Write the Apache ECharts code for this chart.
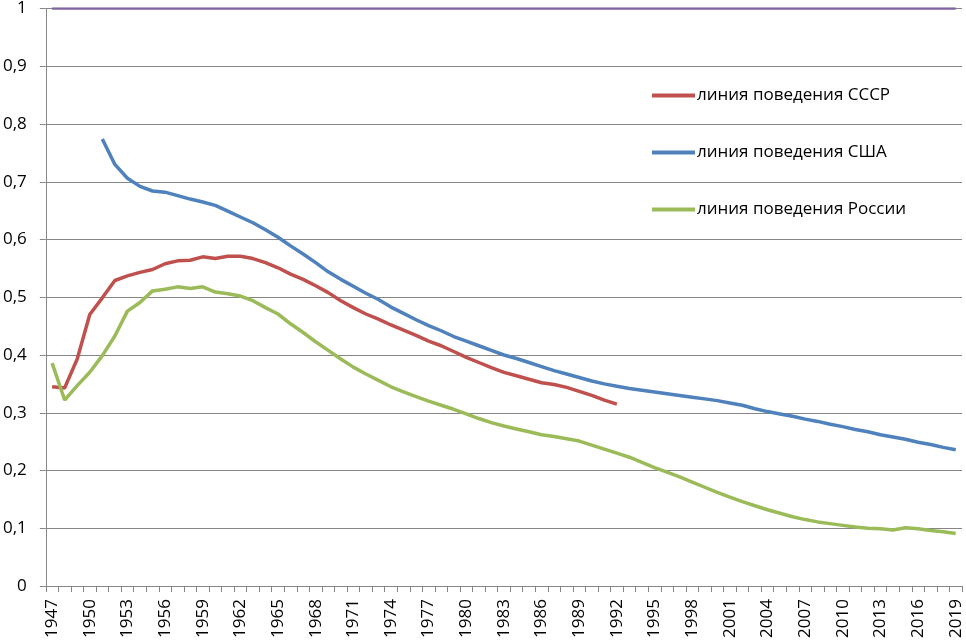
<!DOCTYPE html>
<html>
<head>
<meta charset="utf-8">
<script src="https://cdn.jsdelivr.net/npm/echarts@6/dist/echarts.min.js"></script>
<style>
html,body{margin:0;padding:0;background:#fff;}
#main{width:966px;height:641px;}
</style>
</head>
<body>
<div id="main"></div>
<script>
const years = [];
for (let y = 1947; y <= 2019; y++) years.push(String(y));

const nameUSSR = 'линия поведения СССР';
const nameUSA = 'линия поведения США';
const nameRussia = 'линия поведения России';

// 1947–1992
const ussr = [0.345,0.343,0.393,0.470,0.499,0.529,0.537,0.543,0.548,0.558,
0.563,0.564,0.570,0.567,0.571,0.571,0.567,0.560,0.551,0.540,
0.531,0.520,0.508,0.494,0.482,0.471,0.462,0.452,0.443,0.434,
0.424,0.416,0.406,0.396,0.387,0.378,0.370,0.364,0.358,0.352,
0.349,0.344,0.337,0.330,0.322,0.315];

// 1951–2019
const usa = [0.774,0.730,0.706,0.692,0.684,0.682,0.676,0.670,0.665,0.659,
0.649,0.639,0.629,0.617,0.604,0.589,0.575,0.560,0.544,0.531,
0.519,0.507,0.496,0.483,0.472,0.461,0.451,0.442,0.432,0.424,
0.416,0.408,0.400,0.394,0.387,0.380,0.373,0.367,0.361,0.355,
0.350,0.346,0.342,0.339,0.336,0.333,0.330,0.327,0.324,0.321,
0.317,0.313,0.307,0.302,0.298,0.294,0.289,0.285,0.280,0.276,
0.271,0.267,0.262,0.258,0.254,0.249,0.245,0.240,0.236];

// 1947–2019
const russia = [0.386,0.322,0.347,0.370,0.399,0.433,0.476,0.491,0.511,0.514,
0.518,0.515,0.518,0.509,0.506,0.502,0.494,0.482,0.471,0.454,
0.439,0.423,0.408,0.393,0.379,0.367,0.356,0.345,0.336,0.328,
0.320,0.313,0.306,0.298,0.290,0.283,0.277,0.272,0.267,0.262,
0.259,0.255,0.251,0.244,0.237,0.230,0.223,0.214,0.205,0.197,
0.189,0.180,0.171,0.162,0.154,0.146,0.139,0.132,0.126,0.120,
0.115,0.111,0.108,0.105,0.102,0.100,0.099,0.097,0.101,0.099,
0.096,0.094,0.091];

// reference line at 1, 1947–2019
const reference = years.map(() => 1);

const usaData = years.map((y, i) => (i < 4 ? null : usa[i - 4]));
const ussrData = years.map((y, i) => (i < ussr.length ? ussr[i] : null));

const font = 'Open Sans';
const chart = echarts.init(document.getElementById('main'), null, {renderer: 'canvas'});
chart.setOption({
  animation: false,
  backgroundColor: '#ffffff',
  grid: {left: 45, right: 4, top: 7, bottom: 55, containLabel: false},
  legend: {
    orient: 'vertical',
    left: 647,
    top: 82,
    itemWidth: 43,
    itemHeight: 4,
    itemGap: 40,
    icon: 'rect',
    textStyle: {fontFamily: font, fontSize: 17, color: '#000', padding: [0, 0, 0, -3]},
    data: [nameUSSR, nameUSA, nameRussia]
  },
  xAxis: {
    type: 'category',
    data: years,
    boundaryGap: true,
    axisLine: {lineStyle: {color: '#868686', width: 1}},
    axisTick: {show: true, interval: 0, length: 6, lineStyle: {color: '#868686'}},
    axisLabel: {interval: 2, rotate: 90, margin: 13, fontFamily: font, fontSize: 17, color: '#000'},
    splitLine: {show: false}
  },
  yAxis: {
    type: 'value',
    min: 0, max: 1, interval: 0.1,
    axisLine: {show: true, lineStyle: {color: '#868686', width: 1}},
    axisTick: {show: true, length: 6, lineStyle: {color: '#868686'}},
    axisLabel: {margin: 19, fontFamily: font, fontSize: 17, color: '#000',
      formatter: v => String(Math.round(v * 10) / 10).replace('.', ',')},
    splitLine: {show: true, lineStyle: {color: '#868686', width: 1}}
  },
  series: [
    {name: 'ref', type: 'line', data: reference, showSymbol: false, symbol: 'none',
      lineStyle: {color: '#8064A2', width: 2.5}, itemStyle: {color: '#8064A2'}},
    {name: nameUSSR, type: 'line', data: ussrData, showSymbol: false, symbol: 'none',
      lineStyle: {color: '#C0504D', width: 3.5}, itemStyle: {color: '#C0504D'}},
    {name: nameUSA, type: 'line', data: usaData, showSymbol: false, symbol: 'none',
      lineStyle: {color: '#4F81BD', width: 3.5}, itemStyle: {color: '#4F81BD'}},
    {name: nameRussia, type: 'line', data: russia, showSymbol: false, symbol: 'none',
      lineStyle: {color: '#9BBB59', width: 3.5}, itemStyle: {color: '#9BBB59'}}
  ]
});
</script>
</body>
</html>
